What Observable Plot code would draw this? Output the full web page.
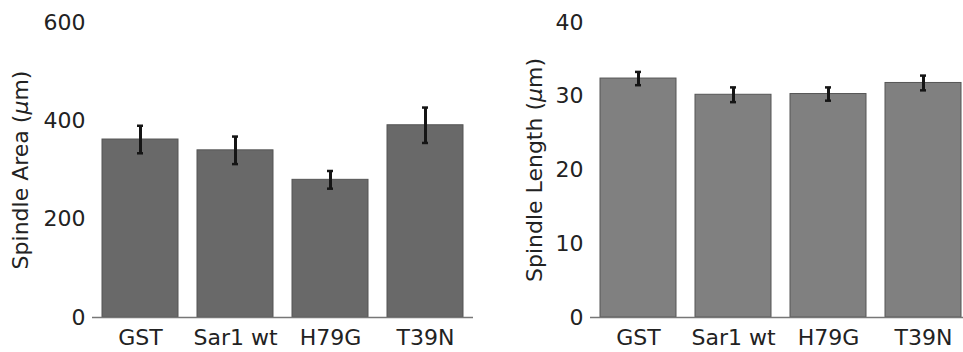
<!DOCTYPE html>
<html>
<head>
<meta charset="utf-8">
<script src="https://cdn.jsdelivr.net/npm/d3@7"></script>
<script src="https://cdn.jsdelivr.net/npm/@observablehq/plot@0.6"></script>
<style>
  html, body { margin: 0; padding: 0; background: #fff; overflow: hidden; }
  #wrap { width: 963px; height: 352px; overflow: hidden; white-space: nowrap; font-size: 0; }
  #wrap svg { display: inline-block; vertical-align: top; }
</style>
</head>
<body>
<div id="wrap"></div>
<script>
const categories = ["GST", "Sar1 wt", "H79G", "T39N"];
const areaMean = [362, 340, 280, 391];
const areaErr = [28, 28, 18, 36];
const lengthMean = [32.4, 30.2, 30.3, 31.8];
const lengthErr = [0.9, 1.0, 0.9, 1.0];
const areaTicks = [0, 200, 400, 600];
const lengthTicks = [0, 10, 20, 30, 40];

function panel({means, errs, ticks, domain, fill, label, width, marginLeft, marginRight, labelOffset}) {
  const data = categories.map((c, i) => ({cat: c, v: means[i], lo: means[i] - errs[i], hi: means[i] + errs[i]}));
  const svg = Plot.plot({
    width, height: 352,
    marginTop: 22, marginBottom: 35, marginLeft, marginRight,
    style: {fontFamily: "DejaVu Sans", fontSize: "22px", color: "#222", background: "#fff"},
    x: {domain: categories, paddingInner: 0.2, paddingOuter: 0.1},
    y: {domain},
    marks: [
      Plot.barY(data, {x: "cat", y: "v", fill, stroke: "#555", strokeWidth: 1}),
      Plot.ruleY([0], {stroke: "#777", strokeWidth: 1.5}),
      Plot.ruleX(data, {x: "cat", y1: "lo", y2: "hi", stroke: "#151515", strokeWidth: 3}),
      Plot.tickY(data, {x: "cat", y: "lo", stroke: "#151515", strokeWidth: 2.5, insetLeft: 35, insetRight: 35}),
      Plot.tickY(data, {x: "cat", y: "hi", stroke: "#151515", strokeWidth: 2.5, insetLeft: 35, insetRight: 35}),
      Plot.axisX({label: null, tickSize: 0, tickPadding: 12, fontSize: 22, fill: "#222"}),
      Plot.axisY({ticks, tickSize: 0, tickPadding: 7, fontSize: 22, fill: "#222",
        label, labelAnchor: "center", labelOffset})
    ]
  });
  d3.select(svg).selectAll("text").each(function() {
    const t = d3.select(this);
    let s = t.text();
    if (s.includes("µ") || s.includes("μ")) {
      s = s.replace(/\s*[↑→↓←]\s*/g, "").trim();
      const idx = s.search(/[µμ]/);
      t.text(null);
      t.attr("font-size", 22);
      t.append("tspan").text(s.slice(0, idx));
      t.append("tspan").attr("font-style", "italic").text(s[idx]);
      t.append("tspan").text(s.slice(idx + 1));
    }
  });
  return svg;
}

const wrap = document.getElementById("wrap");
wrap.appendChild(panel({
  means: areaMean, errs: areaErr, ticks: areaTicks, domain: [0, 600],
  fill: "#696969", label: "Spindle Area (μm)",
  width: 480, marginLeft: 92, marginRight: 7, labelOffset: 80
}));
wrap.appendChild(panel({
  means: lengthMean, errs: lengthErr, ticks: lengthTicks, domain: [0, 40],
  fill: "#808080", label: "Spindle Length (μm)",
  width: 491, marginLeft: 110, marginRight: 0, labelOffset: 64
}));
</script>
</body>
</html>
